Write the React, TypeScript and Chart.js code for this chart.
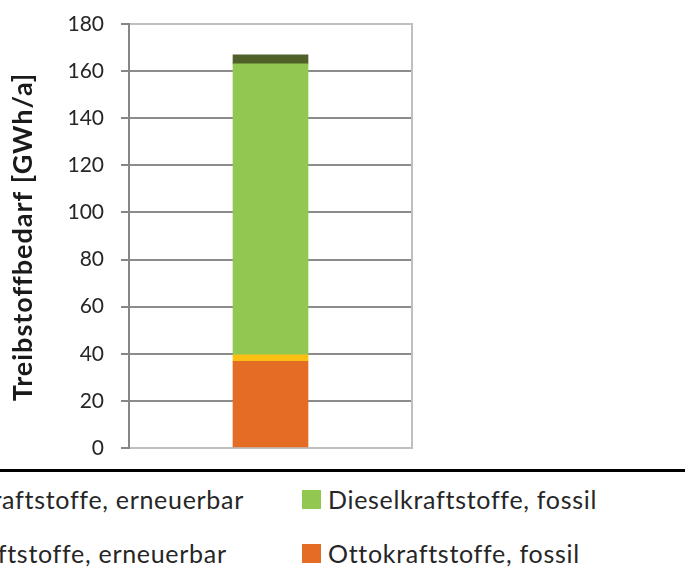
import React, { useEffect, useRef } from 'react';
import { Chart, registerables } from 'chart.js';

Chart.register(...registerables);

// ---- data ----
const categories = [''];
const seriesLabels = [
  'Ottokraftstoffe, fossil',
  'Ottokraftstoffe, erneuerbar',
  'Dieselkraftstoffe, fossil',
  'Dieselkraftstoffe, erneuerbar',
];
const ottoFossil = [36.8];
const ottoErneuerbar = [2.8];
const dieselFossil = [123.5];
const dieselErneuerbar = [3.8];
const seriesColors = ['#E46C25', '#FCC012', '#92C852', '#4F6128'];
const yTicks = [0, 20, 40, 60, 80, 100, 120, 140, 160, 180];
const yTitle = 'Treibstoffbedarf [GWh/a]';
// legend rows (indices into seriesLabels), left column then right column
const legendRows = [
  [3, 2],
  [1, 0],
];

const seriesValues = [ottoFossil, ottoErneuerbar, dieselFossil, dieselErneuerbar];

const plotBorder = {
  id: 'plotBorder',
  beforeDatasetsDraw(chart: any) {
    const { ctx, chartArea } = chart;
    ctx.save();
    ctx.strokeStyle = '#bfbfbf';
    ctx.lineWidth = 2;
    ctx.beginPath();
    ctx.moveTo(chartArea.right, chartArea.top - 1);
    ctx.lineTo(chartArea.right, chartArea.bottom + 1);
    ctx.stroke();
    ctx.restore();
  },
};

const axisTitle = {
  id: 'axisTitle',
  afterDraw(chart: any) {
    const { ctx, chartArea } = chart;
    ctx.save();
    ctx.translate(23, (chartArea.top + chartArea.bottom) / 2 + 1);
    ctx.rotate(-Math.PI / 2);
    (ctx as any).letterSpacing = '1px';
    ctx.font = 'bold 27px Lato';
    ctx.fillStyle = '#1a1a1a';
    ctx.textAlign = 'center';
    ctx.textBaseline = 'middle';
    ctx.fillText(yTitle, 0, 0);
    ctx.restore();
  },
};

export default function App() {
  const canvasRef = useRef<HTMLCanvasElement | null>(null);

  useEffect(() => {
    let chart: Chart | null = null;
    let cancelled = false;
    const make = () => {
      if (cancelled || !canvasRef.current) return;
      chart = new Chart(canvasRef.current, {
        type: 'bar',
        data: {
          labels: categories,
          datasets: seriesValues.map((vals, i) => ({
            label: seriesLabels[i],
            data: vals,
            backgroundColor: seriesColors[i],
            borderWidth: 0,
            barThickness: 75,
          })),
        },
        options: {
          animation: false,
          responsive: false,
          events: [],
          layout: { padding: { top: 24, bottom: 20, left: 0, right: 273 } },
          plugins: { legend: { display: false }, tooltip: { enabled: false } },
          scales: {
            x: {
              stacked: true,
              offset: true,
              ticks: { display: false },
              grid: { display: false, drawTicks: false },
              border: { display: true, color: '#bfbfbf', width: 2 },
              afterFit: (scale: any) => {
                scale.height = 0;
                scale.paddingLeft = 0;
                scale.paddingRight = 0;
              },
            },
            y: {
              stacked: true,
              min: 0,
              max: 180,
              afterBuildTicks: (scale: any) => {
                scale.ticks = yTicks.map((v) => ({ value: v }));
              },
              afterFit: (scale: any) => {
                scale.width = 129;
                scale.paddingTop = 0;
                scale.paddingBottom = 0;
              },
              ticks: {
                padding: 17,
                color: '#262626',
                font: { family: 'Lato', size: 21 },
              },
              grid: {
                color: (c: any) =>
                  c.tick && (c.tick.value === 0 || c.tick.value === 180) ? '#bfbfbf' : '#8c8c8c',
                lineWidth: 2,
                tickLength: 8,
                tickColor: '#868686',
                tickWidth: 2,
              },
              border: { display: true, color: '#868686', width: 2 },
              title: { display: false },
            },
          },
        },
        plugins: [plotBorder, axisTitle],
      });
    };
    const fontsReady = (document as any).fonts
      ? Promise.all([
          (document as any).fonts.load('21px Lato'),
          (document as any).fonts.load('bold 27px Lato'),
          (document as any).fonts.load('25px Lato'),
        ]).catch(() => null)
      : Promise.resolve(null);
    fontsReady.then(make);
    return () => {
      cancelled = true;
      if (chart) chart.destroy();
    };
  }, []);

  const colX = [-119, 302];
  const rowY = [484, 538];

  return (
    <div
      style={{
        position: 'absolute',
        left: 0,
        top: 0,
        width: 685,
        height: 575,
        overflow: 'hidden',
        background: '#ffffff',
      }}
    >
      <canvas ref={canvasRef} width={685} height={468} style={{ position: 'absolute', left: 0, top: 0 }} />
      <div
        style={{ position: 'absolute', left: 0, top: 469, width: 685, height: 3, background: '#000000' }}
      />
      {legendRows.map((row, r) =>
        row.map((si, c) => (
          <div
            key={`${r}-${c}`}
            style={{
              position: 'absolute',
              left: colX[c],
              top: rowY[r],
              height: 30,
              display: 'flex',
              alignItems: 'center',
              whiteSpace: 'nowrap',
              fontFamily: 'Lato',
              fontSize: 25,
              letterSpacing: '0.7px',
              color: '#262626',
            }}
          >
            <span
              style={{
                display: 'inline-block',
                width: 19,
                height: 19,
                background: seriesColors[si],
                marginRight: 7,
              }}
            />
            <span>{seriesLabels[si]}</span>
          </div>
        ))
      )}
    </div>
  );
}
